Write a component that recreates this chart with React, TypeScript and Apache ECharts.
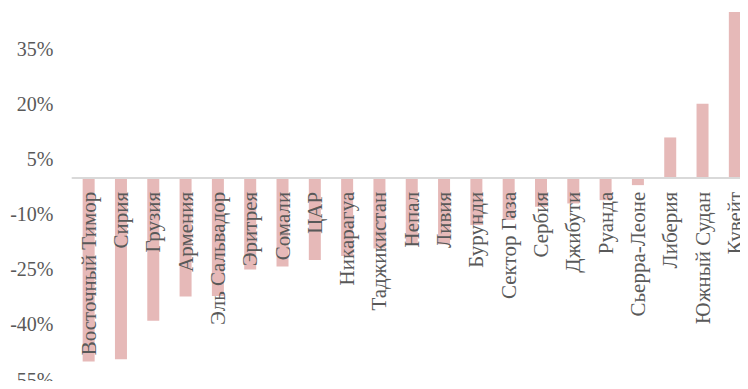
import React, { useEffect, useRef } from "react";
import * as echarts from "echarts";

const categories = [
  "Восточный Тимор",
  "Сирия",
  "Грузия",
  "Армения",
  "Эль Сальвадор",
  "Эритрея",
  "Сомали",
  "ЦАР",
  "Никарагуа",
  "Таджикистан",
  "Непал",
  "Ливия",
  "Бурунди",
  "Сектор Газа",
  "Сербия",
  "Джибути",
  "Руанда",
  "Сьерра-Леоне",
  "Либерия",
  "Южный Судан",
  "Кувейт",
];

const values = [
  -50.1, -49.5, -39.0, -32.4, -32.2, -25.0, -24.2, -22.4, -21.3, -19.3, -18.3,
  -18.1, -12.9, -11.5, -7.9, -7.0, -6.1, -2.0, 11.0, 20.2, 45.2,
];

const yMin = -55;
const yMax = 46;
const yInterval = 15;

const FONT = "'Liberation Serif', 'Times New Roman', serif";

const W = 748;
const H = 389;
const GRID_TOP = 9.1;
const GRID_BOTTOM = 9.5;

export default function App() {
  const ref = useRef<HTMLDivElement>(null);
  useEffect(() => {
    if (!ref.current) return;
    const chart = echarts.init(ref.current, undefined, { renderer: "svg" });
    const gridH = H - GRID_TOP - GRID_BOTTOM;
    // move the category axis (line and labels) up to the zero value
    const zeroOffset = -((0 - yMin) / (yMax - yMin)) * gridH;
    chart.setOption({
      animation: false,
      backgroundColor: "#ffffff",
      grid: {
        left: 72.5,
        right: -3,
        top: GRID_TOP,
        bottom: GRID_BOTTOM,
        containLabel: false,
        outerBoundsMode: "none",
      },
      xAxis: {
        type: "category",
        data: categories,
        z: 10,
        position: "bottom",
        offset: zeroOffset,
        axisLine: { show: true, onZero: false, lineStyle: { color: "#d9d9d9", width: 2 } },
        axisTick: { show: false },
        axisLabel: {
          interval: 0,
          rotate: 90,
          margin: 14,
          color: "#595959",
          fontFamily: FONT,
          fontSize: 21,
        },
        splitLine: { show: false },
      },
      yAxis: {
        type: "value",
        min: yMin,
        max: yMax,
        interval: yInterval,
        axisLine: { show: false },
        axisTick: { show: false },
        splitLine: { show: false },
        axisLabel: {
          formatter: "{value}%",
          showMaxLabel: false,
          margin: 19,
          color: "#595959",
          fontFamily: FONT,
          fontSize: 20,
        },
      },
      series: [
        {
          type: "bar",
          data: values,
          barWidth: 12,
          itemStyle: { color: "#e6b9b8" },
          z: 2,
        },
      ],
    });
    return () => chart.dispose();
  }, []);
  return <div ref={ref} style={{ width: W, height: H, margin: -8 }} />;
}
